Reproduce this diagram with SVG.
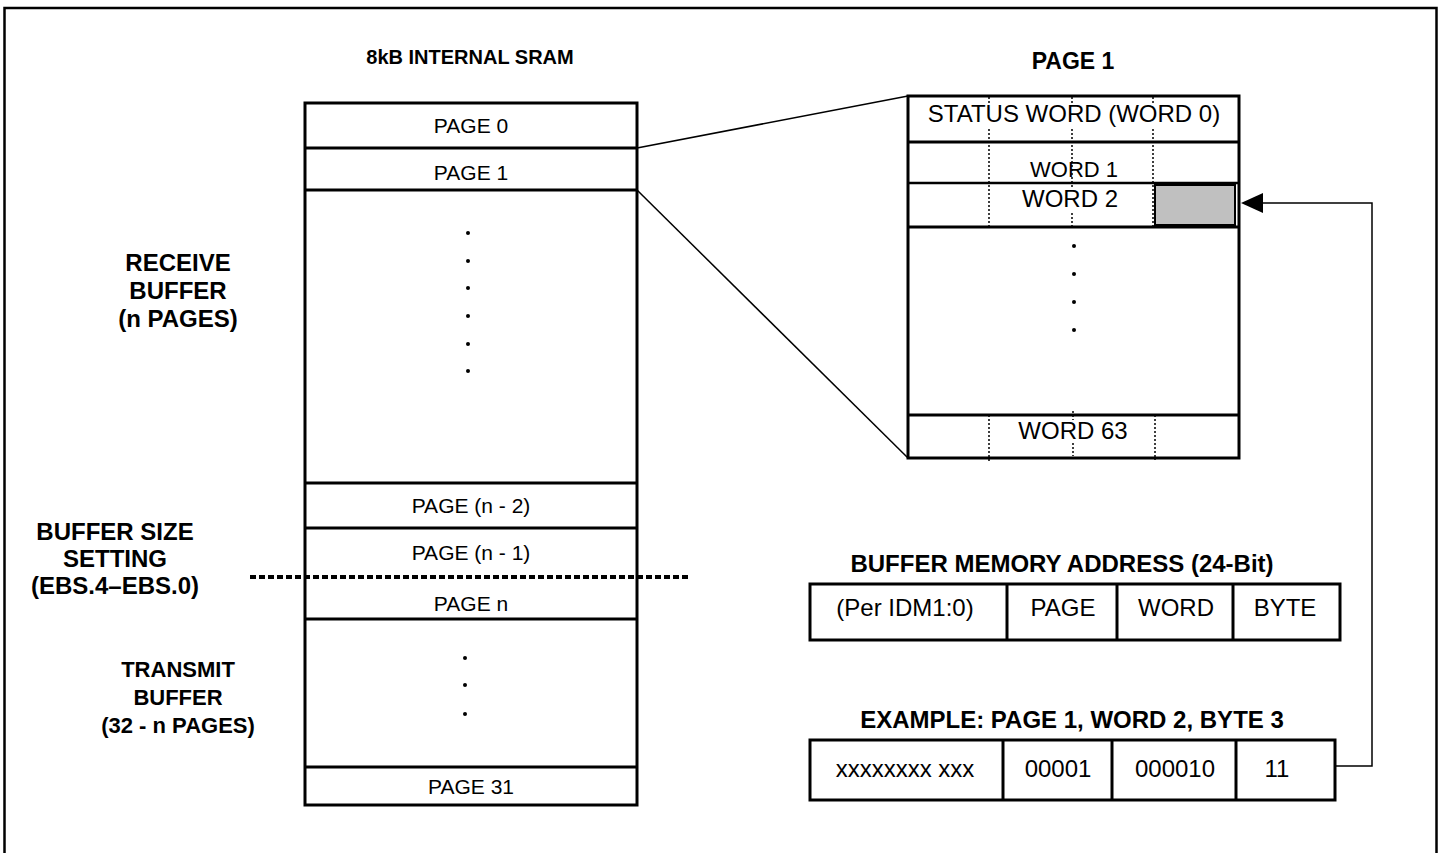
<svg xmlns="http://www.w3.org/2000/svg" width="1442" height="853" viewBox="0 0 1442 853">
<style>
.t{font-family:"Liberation Sans",Arial,sans-serif;font-size:24px;fill:#000;text-anchor:middle}
.p{font-family:"Liberation Sans",Arial,sans-serif;font-size:21px;fill:#000;text-anchor:middle}
.b{font-family:"Liberation Sans",Arial,sans-serif;font-size:24px;font-weight:bold;fill:#000;text-anchor:middle}
.box{fill:#fff;stroke:#000;stroke-width:3}
.ln{stroke:#000;stroke-width:3;fill:none}
.dot{stroke:#000;stroke-width:1.5;stroke-dasharray:2 2;fill:none}
.thin{stroke:#000;stroke-width:1.5;fill:none}
</style>
<rect x="0" y="0" width="1442" height="853" fill="#fff"/>
<rect x="4.5" y="8" width="1432" height="870" fill="none" stroke="#000" stroke-width="2.5"/>

<g id="sram">
<text class="b" x="470" y="64" style="font-size:20px">8kB INTERNAL SRAM</text>
<rect class="box" x="305" y="103" width="332" height="702"/>
<line class="ln" x1="305" y1="148" x2="637" y2="148"/>
<line class="ln" x1="305" y1="190" x2="637" y2="190"/>
<line class="ln" x1="305" y1="483" x2="637" y2="483"/>
<line class="ln" x1="305" y1="528" x2="637" y2="528"/>
<line class="ln" x1="305" y1="619" x2="637" y2="619"/>
<line class="ln" x1="305" y1="767" x2="637" y2="767"/>
<text class="p" x="471" y="133">PAGE 0</text>
<text class="p" x="471" y="180">PAGE 1</text>
<g fill="#000">
<circle cx="468" cy="233" r="2"/><circle cx="468" cy="261" r="2"/><circle cx="468" cy="288" r="2"/>
<circle cx="468" cy="316" r="2"/><circle cx="468" cy="344" r="2"/><circle cx="468" cy="371" r="2"/>
<circle cx="465" cy="658" r="2"/><circle cx="465" cy="685" r="2"/><circle cx="465" cy="714" r="2"/>
</g>
<text class="p" x="471" y="513">PAGE (n - 2)</text>
<text class="p" x="471" y="560">PAGE (n - 1)</text>
<text class="p" x="471" y="611">PAGE n</text>
<text class="p" x="471" y="794">PAGE 31</text>
</g>

<g id="labels">
<text class="b" x="178" y="271">RECEIVE</text>
<text class="b" x="178" y="299">BUFFER</text>
<text class="b" x="178" y="327">(n PAGES)</text>
<text class="b" x="115" y="540">BUFFER SIZE</text>
<text class="b" x="115" y="567">SETTING</text>
<text class="b" x="115" y="594">(EBS.4–EBS.0)</text>
<text class="b" x="178" y="677" style="font-size:22px">TRANSMIT</text>
<text class="b" x="178" y="705" style="font-size:22px">BUFFER</text>
<text class="b" x="178" y="733" style="font-size:22px">(32 - n PAGES)</text>
</g>

<g id="boundary">
<line x1="250" y1="577" x2="690" y2="577" stroke="#000" stroke-width="4" stroke-dasharray="6 3"/>
</g>

<g id="page1">
<text class="b" x="1073" y="69" style="font-size:23px">PAGE 1</text>
<rect class="box" x="908" y="96" width="331" height="362"/>
<line class="dot" x1="989" y1="97" x2="989" y2="227"/>
<line class="dot" x1="1072" y1="97" x2="1072" y2="227"/>
<line class="dot" x1="1153" y1="97" x2="1153" y2="227"/>
<rect x="912" y="104" width="324" height="25" fill="#fff"/>
<rect x="1015" y="187" width="110" height="26" fill="#fff"/>
<line class="ln" x1="908" y1="142" x2="1239" y2="142"/>
<line x1="908" y1="183" x2="1239" y2="183" stroke="#000" stroke-width="2.5"/>
<line class="ln" x1="908" y1="227" x2="1239" y2="227"/>
<line class="ln" x1="908" y1="415" x2="1239" y2="415"/>
<rect x="1155" y="185" width="80" height="40" fill="#c0c0c0" stroke="#000" stroke-width="2"/>
<text class="t" x="1074" y="122">STATUS WORD (WORD 0)</text>
<text class="t" x="1074" y="177" style="font-size:22px">WORD 1</text>
<text class="t" x="1070" y="207">WORD 2</text>
<g fill="#000">
<circle cx="1074" cy="246" r="2"/><circle cx="1074" cy="274" r="2"/><circle cx="1074" cy="302" r="2"/><circle cx="1074" cy="330" r="2"/>
</g>
<line class="dot" x1="989" y1="415" x2="989" y2="461"/>
<line class="dot" x1="1155" y1="415" x2="1155" y2="460"/>
<line class="dot" x1="1073" y1="411" x2="1073" y2="420"/>
<line class="dot" x1="1073" y1="443" x2="1073" y2="456"/>
<text class="t" x="1073" y="439">WORD 63</text>
</g>

<g id="addr">
<text class="b" x="1062" y="572">BUFFER MEMORY ADDRESS (24-Bit)</text>
<rect class="box" x="810" y="584" width="530" height="56"/>
<line class="ln" x1="1007" y1="584" x2="1007" y2="640"/>
<line class="ln" x1="1117" y1="584" x2="1117" y2="640"/>
<line class="ln" x1="1233" y1="584" x2="1233" y2="640"/>
<text class="t" x="905" y="616">(Per IDM1:0)</text>
<text class="t" x="1063" y="616">PAGE</text>
<text class="t" x="1176" y="616">WORD</text>
<text class="t" x="1285" y="616">BYTE</text>
</g>

<g id="example">
<text class="b" x="1072" y="728">EXAMPLE: PAGE 1, WORD 2, BYTE 3</text>
<rect class="box" x="810" y="740" width="525" height="60"/>
<line class="ln" x1="1003" y1="740" x2="1003" y2="800"/>
<line class="ln" x1="1112" y1="740" x2="1112" y2="800"/>
<line class="ln" x1="1236" y1="740" x2="1236" y2="800"/>
<text class="t" x="905" y="777">xxxxxxxx xxx</text>
<text class="t" x="1058" y="777">00001</text>
<text class="t" x="1175" y="777">000010</text>
<text class="t" x="1277" y="777">11</text>
</g>

<g id="connectors">
<line class="thin" x1="637" y1="148" x2="908" y2="96"/>
<line class="thin" x1="637" y1="190" x2="908" y2="458"/>
<polyline class="thin" points="1335,766 1372,766 1372,203 1262,203"/>
<polygon points="1241,203 1263,193 1263,213" fill="#000"/>
</g>
</svg>
